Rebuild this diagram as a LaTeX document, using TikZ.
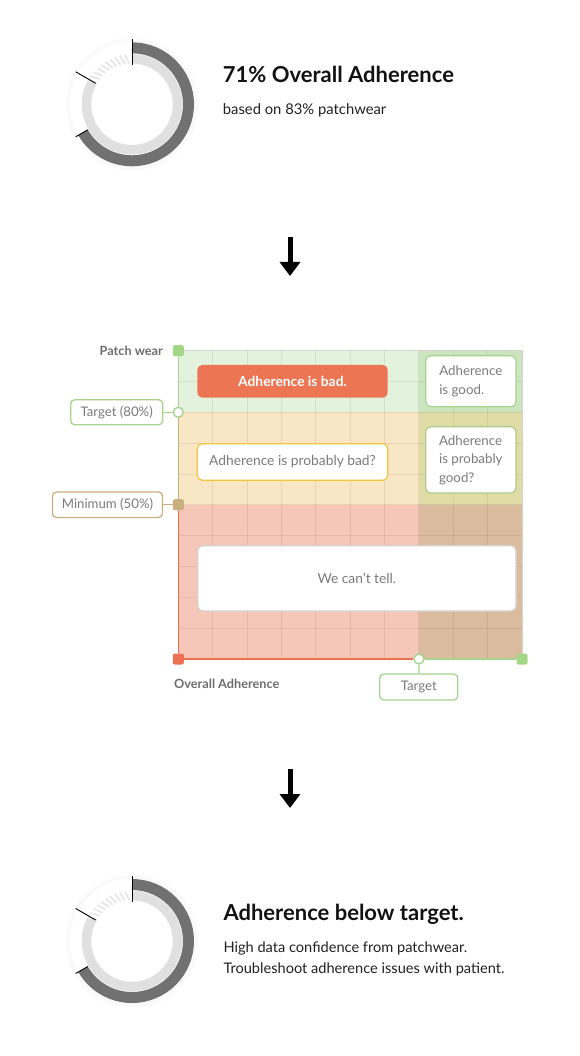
\documentclass[tikz,border=0pt]{standalone}
\usepackage{fontspec}
\setmainfont{Lato}
\usetikzlibrary{arrows.meta,calc}
\definecolor{ringlight}{HTML}{E0E0E0}
\definecolor{ringhatch}{HTML}{E6E6E6}
\definecolor{ringdark}{HTML}{717171}
\definecolor{gL}{HTML}{E3F2DC}
\definecolor{gR}{HTML}{CDE5BF}
\definecolor{oL}{HTML}{F9E6C4}
\definecolor{oR}{HTML}{E0DCA8}
\definecolor{rL}{HTML}{F6C6B8}
\definecolor{rR}{HTML}{DCBC9F}
\definecolor{lgreen}{HTML}{A6D48C}
\definecolor{mgreen}{HTML}{A3D786}
\definecolor{tanc}{HTML}{C9AE7E}
\definecolor{redc}{HTML}{EC7152}
\definecolor{boxred}{HTML}{EC7654}
\definecolor{yellowc}{HTML}{F2C53A}
\definecolor{greyborder}{HTML}{D2D2D2}
\definecolor{txtgrey}{HTML}{7A7A7A}
\definecolor{lblgrey}{HTML}{6E6E6E}
\newcommand\mydonut[1]{%
\begin{scope}[shift={#1}]
  \foreach \r/\o in {63/0.025,64.5/0.018,66/0.01,67.5/0.005}
    \draw[black,opacity=\o,line width=1.5] (0,0) circle[radius=\r];
  \draw[ringlight,line width=9.5] (90:45.5) arc[start angle=90,end angle=-210,radius=45.5];
  \foreach \a in {94,100,...,148}
    \draw[ringhatch,line width=1.8] (\a:41) -- ({\a+4}:50);
  \draw[ringdark,line width=11] (90:56.5) arc[start angle=90,end angle=-150,radius=56.5];
  \draw[black,line width=0.9] (90:39) -- (90:65);
  \draw[black,line width=0.9] (150:42) -- (150:65);
  \draw[black,line width=0.9] (210:51) -- (210:65);
\end{scope}}
\begin{document}
\begin{tikzpicture}[x=1pt,y=1pt,
  sqm/.style={rectangle,rounded corners=2,minimum size=11,inner sep=0},
  circm/.style={circle,draw=lgreen,fill=white,line width=1.4,minimum size=10,inner sep=0},
  axisline/.style={line width=1.6},
  lbl/.style={rectangle,rounded corners=4,fill=white,line width=1.3,inner sep=0,text=txtgrey,font=\fontsize{13.2}{15}\selectfont},
  cbox/.style={rectangle,rounded corners=5,fill=white,line width=1.2,inner sep=0,text=txtgrey,font=\fontsize{13.8}{16}\selectfont},
  bigarrow/.style={-{Triangle[length=14pt,width=20pt]},line width=5,black},
  gridc/.style={black,opacity=0.07,line width=1},
  textl/.style={anchor=base west,inner sep=0}
]
\useasboundingbox (0,0) rectangle (580,-1056);

% ---------- top donut and text
\mydonut{(132,-104.3)}
\node[textl,font=\fontsize{22}{26}\selectfont\bfseries,text=black!93] (t1) at (222.7,-82.7) {71\% Overall Adherence};
\node[textl,font=\fontsize{14.8}{17}\selectfont,text=black!87] (t2) at (222.7,-114.3) {based on 83\% patchwear};

% ---------- arrow 1
\coordinate (a1s) at (290,-237);
\coordinate (a1e) at (290,-276);
\draw[bigarrow] (a1s) -- (a1e);

% ---------- chart regions
\fill[gL] (178.3,-350.7) rectangle (419,-412.3);
\fill[gR] (419,-350.7) rectangle (522,-412.3);
\fill[oL] (178.3,-412.3) rectangle (419,-504.7);
\fill[oR] (419,-412.3) rectangle (522,-504.7);
\fill[rL] (178.3,-504.7) rectangle (419,-659);
\fill[rR] (419,-504.7) rectangle (522,-659);
\foreach \i in {1,...,9}
  \draw[gridc] ({178.3+34.37*\i},-350.7) -- ({178.3+34.37*\i},-659);
\foreach \j in {1,...,9}
  \draw[gridc] (178.3,{-350.7-30.83*\j}) -- (522,{-350.7-30.83*\j});
\draw[greyborder,line width=1] (178.3,-350.7) -- (522,-350.7) -- (522,-659);

% ---------- markers
\node[sqm,fill=mgreen] (mPW) at (178.3,-350.7) {};
\node[circm] (mT) at (178.3,-412.3) {};
\node[sqm,fill=tanc] (mM) at (178.3,-504.7) {};
\node[sqm,fill=redc] (mO) at (178.3,-659) {};
\node[circm] (mTx) at (419,-659) {};
\node[sqm,fill=mgreen] (mE) at (522,-659) {};

% ---------- axes
\draw[axisline,lgreen] (mPW) -- (mT);
\draw[axisline,tanc] (mT) -- (mM);
\draw[axisline,redc] (mM) -- (mO);
\draw[axisline,redc] (mO) -- (mTx);
\draw[axisline,lgreen] (mTx) -- (mE);

% ---------- axis labels
\node[anchor=east,inner sep=0,font=\fontsize{12.7}{15}\selectfont\bfseries,text=lblgrey] (pw) at (163,-350.7) {Patch wear};
\node[anchor=west,inner sep=0,font=\fontsize{12.7}{15}\selectfont\bfseries,text=lblgrey] (oa) at (174,-684.3) {Overall Adherence};

\node[lbl,draw=lgreen,minimum width=92,minimum height=25] (lT) at (116.7,-412.3) {Target (80\%)};
\draw[lgreen,line width=1.3] (lT) -- (mT);
\node[lbl,draw=tanc,minimum width=110,minimum height=25.5] (lM) at (107.5,-504.7) {Minimum (50\%)};
\draw[tanc,line width=1.3] (lM) -- (mM);
\node[lbl,draw=lgreen,minimum width=78,minimum height=26] (lTx) at (418.8,-687) {Target};
\draw[lgreen,line width=1.3] (lTx) -- (mTx);

% ---------- boxes in chart
\node[cbox,fill=boxred,draw=none,minimum width=190.4,minimum height=32.7,text=white,font=\fontsize{13.8}{16}\selectfont\bfseries] (bad) at (292.5,-381.3) {Adherence is bad.};
\node[cbox,draw=lgreen,minimum width=90.3,minimum height=51,align=left,font=\fontsize{13.3}{19.5}\selectfont] (good) at (470.8,-381.2) {Adherence\\is good.};
\node[cbox,draw=yellowc,minimum width=190.6,minimum height=36.6] (pbad) at (292.5,-462) {Adherence is probably bad?};
\node[cbox,draw=lgreen!80!tanc,minimum width=90.3,minimum height=66.3,align=left,font=\fontsize{13.3}{18.5}\selectfont] (pgood) at (470.8,-459.9) {Adherence\\is probably\\good?};
\node[cbox,draw=greyborder,minimum width=318.3,minimum height=65.3] (cant) at (356.85,-578.35) {We can’t tell.};

% ---------- arrow 2
\coordinate (a2s) at (290,-769);
\coordinate (a2e) at (290,-808);
\draw[bigarrow] (a2s) -- (a2e);

% ---------- bottom donut and text
\mydonut{(132,-941)}
\node[textl,font=\fontsize{22}{26}\selectfont\bfseries,text=black!93] (b1) at (223.3,-920) {Adherence below target.};
\node[textl,font=\fontsize{14.6}{17}\selectfont,text=black!87] (b2) at (223.3,-952.3) {High data confidence from patchwear.};
\node[textl,font=\fontsize{14.6}{17}\selectfont,text=black!87] (b3) at (223.3,-973.3) {Troubleshoot adherence issues with patient.};
\end{tikzpicture}
\end{document}
